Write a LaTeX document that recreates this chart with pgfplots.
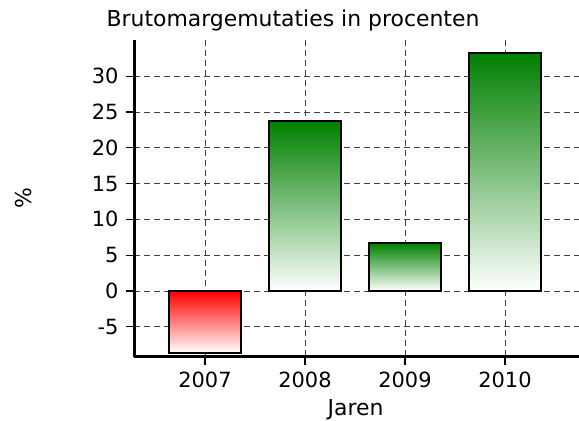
\documentclass[border=0pt]{standalone}
\usepackage{fontspec}
\setmainfont{DejaVu Sans}
\usepackage{pgfplots}
\pgfplotsset{compat=1.18}
\begin{document}
\fontsize{22}{26}\selectfont
\begin{tikzpicture}
\begin{axis}[
 at={(134bp,64.5bp)}, anchor=south west,
 scale only axis, width=445bp, height=316.5bp,
 xmin=-0.71, xmax=3.74, ymin=-9.15, ymax=35.05,
 axis x line*=bottom, axis y line*=left,
 axis line style={line width=3bp, -},
 xtick={0,1,2,3}, xticklabels={2007,2008,2009,2010},
 ytick={-5,0,5,10,15,20,25,30},
 tick align=outside, major tick length=8bp,
 tick style={black, line width=1.2bp},
 grid=major, major grid style={black!75, dash pattern=on 6bp off 4bp, line width=0.9bp},
 /pgf/number format/assume math mode=true,
 ticklabel style={font=\fontsize{21}{25}\selectfont},
 ybar, bar width=0.72, bar shift=0pt,
 every axis plot/.append style={draw=black, line width=2bp},
]
\addplot[top color=red, bottom color=white] coordinates {(0,-8.6)};
\addplot[top color=green!50!black, bottom color=white] coordinates {(1,23.7)};
\addplot[top color=green!50!black, bottom color=white] coordinates {(2,6.7)};
\addplot[top color=green!50!black, bottom color=white] coordinates {(3,33.2)};
\end{axis}
\node[anchor=base] at (293bp,394bp) {Brutomargemutaties in procenten};
\node[rotate=90] at (23.5bp,223bp) {\%};
\node[anchor=base] at (355.5bp,6bp) {Jaren};
\pgfresetboundingbox
\path (0,0) rectangle (579bp,421bp);
\end{tikzpicture}
\end{document}
